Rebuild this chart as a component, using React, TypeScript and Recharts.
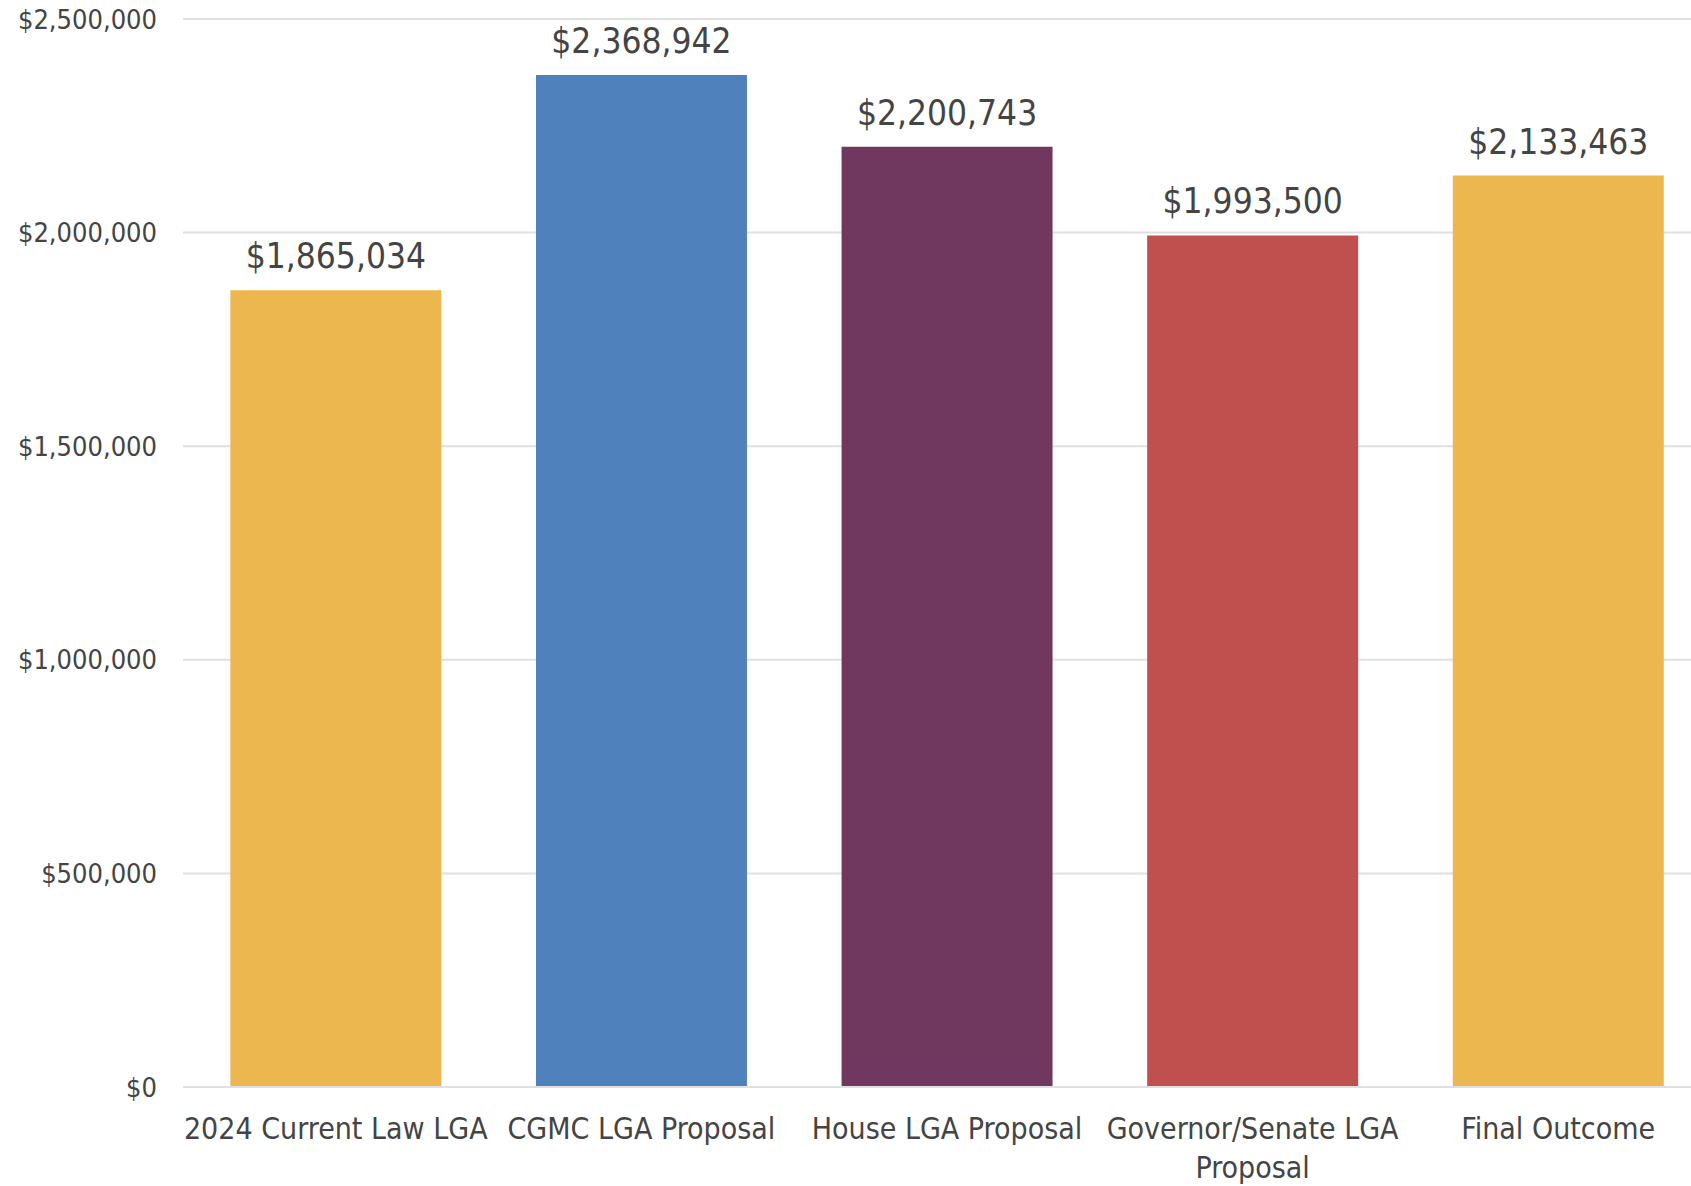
import React from 'react'
import { BarChart, Bar, XAxis, YAxis, CartesianGrid, Cell, LabelList } from 'recharts'

const categories = [
  '2024 Current Law LGA',
  'CGMC LGA Proposal',
  'House LGA Proposal',
  'Governor/Senate LGA Proposal',
  'Final Outcome',
]
const amounts = [1865034, 2368942, 2200743, 1993500, 2133463]
const barColors = ['#ECB74F', '#4F81BD', '#71385F', '#BF504E', '#ECB74F']
const yTicks = [0, 500000, 1000000, 1500000, 2000000, 2500000]

const FONT = "'DejaVu Sans Condensed', 'DejaVu Sans', sans-serif"
const TEXT = '#444444'
const GRID = '#e0e0e0'

const money = (v: number) => '$' + v.toLocaleString('en-US')

const data = categories.map((name, i) => ({ name, amount: amounts[i] }))

// split long category names onto two lines (at the last space)
function CategoryTick({ x, y, payload }: any) {
  const label: string = payload.value
  let lines = [label]
  if (label.length > 24) {
    const cut = label.lastIndexOf(' ')
    lines = [label.slice(0, cut), label.slice(cut + 1)]
  }
  return (
    <g transform={`translate(${x},${y})`}>
      {lines.map((l, i) => (
        <text
          key={i}
          x={0}
          y={44 + i * 39}
          textAnchor="middle"
          fill={TEXT}
          fontSize={30}
          fontFamily={FONT}
          style={{ fontStretch: 'condensed' }}
        >
          {l}
        </text>
      ))}
    </g>
  )
}

export default function App() {
  return (
    <div
      style={{
        position: 'absolute', left: 0, top: 0, width: 1691, height: 1186,
        overflow: 'hidden', background: '#fff', fontFamily: FONT, fontStretch: 'condensed',
      }}
    >
      <BarChart
        width={1720}
        height={1186}
        data={data}
        margin={{ top: 19, right: 9, left: 0, bottom: 0 }}
        barCategoryGap="15.5%"
      >
        <CartesianGrid vertical={false} stroke={GRID} strokeWidth={2} />
        <XAxis
          dataKey="name"
          height={99}
          interval={0}
          tick={<CategoryTick />}
          tickLine={false}
          axisLine={{ stroke: GRID, strokeWidth: 2 }}
        />
        <YAxis
          width={183}
          domain={[0, 2500000]}
          ticks={yTicks}
          tickFormatter={money}
          tick={{ fill: TEXT, fontSize: 27, fontFamily: FONT }}
          tickMargin={20}
          axisLine={false}
          tickLine={false}
        />
        <Bar dataKey="amount" isAnimationActive={false}>
          {data.map((d, i) => (
            <Cell key={d.name} fill={barColors[i]} />
          ))}
          <LabelList
            dataKey="amount"
            position="top"
            offset={22}
            formatter={(v: any) => money(Number(v))}
            fill={TEXT}
            fontSize={35}
            fontFamily={FONT}
          />
        </Bar>
      </BarChart>
    </div>
  )
}
